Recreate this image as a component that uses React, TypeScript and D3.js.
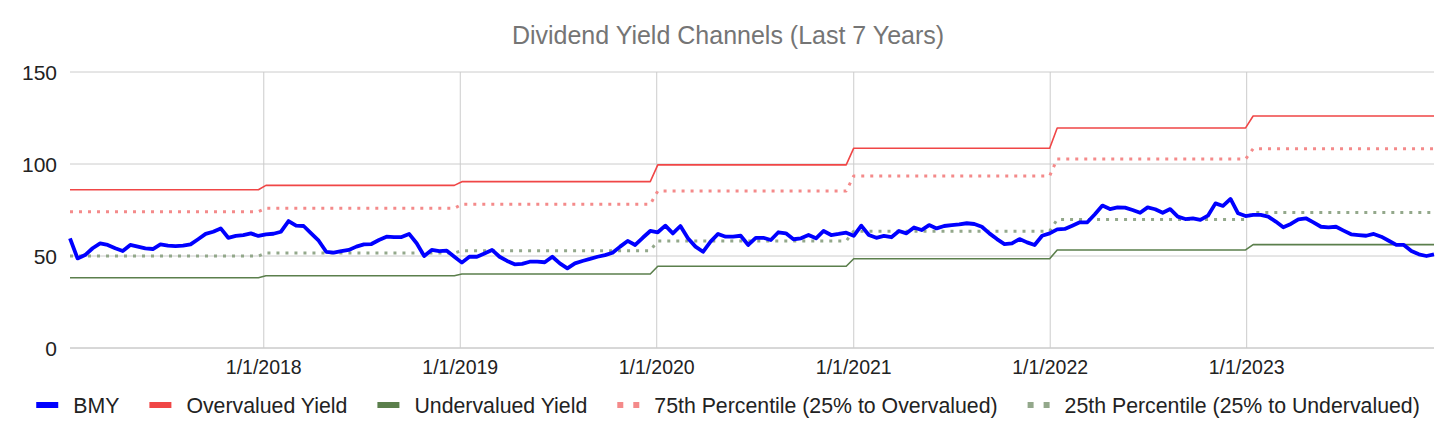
import { useRef, useEffect } from 'react'
import * as d3 from 'd3'

const W = 1456
const H = 439

// biweekly observations, first one on 2017-01-06
const startDate = new Date(2017, 0, 6)
const stepDays = 14

const bmy = [
  59.6, 48.7, 50.5, 54.2, 56.9, 56.0, 54.2, 52.7, 56.0, 55.1, 54.2, 53.8, 56.3, 55.6, 55.4, 55.6,
  56.3, 59.1, 62.0, 63.2, 65.0, 59.9, 60.9, 61.4, 62.3, 60.9, 61.8, 62.1, 63.2, 69.0, 66.5,
  66.3, 62.3, 58.3, 52.3, 51.8, 52.7, 53.3, 55.1, 56.3, 56.5, 58.7, 60.5, 60.3, 60.3, 62.0,
  56.9, 50.0, 53.3, 52.7, 52.9, 49.6, 46.4, 49.6, 49.6, 51.4, 53.3, 49.6, 47.3, 45.5,
  45.7, 46.9, 46.9, 46.6, 49.6, 46.0, 43.3, 46.0, 47.3, 48.4, 49.6, 50.5, 51.8, 55.1, 58.2,
  56.0, 59.9, 63.6, 62.9, 66.5, 62.3, 66.3, 59.6, 55.1, 52.3, 57.8, 62.0, 60.5, 60.5,
  61.0, 56.0, 59.9, 59.9, 58.7, 62.9, 62.3, 59.1, 59.6, 61.4, 59.6, 63.6, 61.4, 62.0, 62.7,
  61.0, 66.5, 61.4, 59.9, 60.9, 60.2, 63.6, 62.3, 65.5, 64.1, 66.8, 65.0, 66.3, 66.8,
  67.2, 67.8, 67.4, 65.9, 62.3, 59.2, 56.5, 56.9, 59.2, 57.4, 56.0, 61.0, 62.3, 64.5, 64.7,
  66.5, 68.3, 68.3, 72.7, 77.4, 75.5, 76.4, 76.3, 75.0, 73.5, 76.4, 75.4, 73.5, 75.5, 71.4,
  70.1, 70.5, 69.6, 71.9, 78.6, 77.2, 81.0, 73.2, 71.7, 72.3, 72.3, 71.4, 68.7, 65.6, 67.4,
  69.9, 70.5, 68.3, 65.9, 65.6, 65.9, 63.8, 61.8, 61.4, 61.0, 62.0, 60.5, 58.3, 56.0, 56.0,
  52.7, 50.9, 50.0, 50.9,
]

// yearly channel levels
const years = [2017, 2018, 2019, 2020, 2021, 2022, 2023]
const overvalued = [86.0, 88.4, 90.4, 99.5, 108.6, 119.6, 126.1]
const undervalued = [38.2, 39.3, 40.2, 44.4, 48.5, 53.3, 56.2]
const pct75 = [74.1, 75.9, 78.1, 85.3, 93.5, 102.7, 108.3]
const pct25 = [50.0, 51.6, 52.9, 58.2, 63.5, 69.9, 73.7]

const yTicks = [0, 50, 100, 150]
const xTickYears = [2018, 2019, 2020, 2021, 2022, 2023]

const series = [
  { name: 'BMY', color: '#0000ff', width: 3.8, dash: '' },
  { name: 'Overvalued Yield', color: '#f04646', width: 1.6, dash: '' },
  { name: 'Undervalued Yield', color: '#5b7f4c', width: 1.6, dash: '' },
  { name: '75th Percentile (25% to Overvalued)', color: '#f48a8a', width: 3, dash: '3,6' },
  { name: '25th Percentile (25% to Undervalued)', color: '#93a88b', width: 3, dash: '3,6' },
]

const FONT = '"Liberation Sans", Arial, sans-serif'

export default function App() {
  const svgRef = useRef<SVGSVGElement | null>(null)

  useEffect(() => {
    if (!svgRef.current) return
    const svg = d3.select(svgRef.current)
    svg.selectAll('*').remove()

    const dates = bmy.map((_, i) => d3.timeDay.offset(startDate, i * stepDays))
    const levelAt = (arr: number[], d: Date) => arr[years.indexOf(d.getFullYear())]

    const left = 70, right = 1434, top = 72, bottom = 348
    const x = d3.scaleTime().domain([dates[0], dates[dates.length - 1]]).range([left, right])
    const y = d3.scaleLinear().domain([0, 150]).range([bottom, top])

    svg.append('rect').attr('width', W).attr('height', H).attr('fill', '#fff')

    // title
    svg.append('text').attr('x', W / 2).attr('y', 44).attr('text-anchor', 'middle')
      .attr('font-family', FONT).attr('font-size', '25px').attr('fill', '#757575')
      .text('Dividend Yield Channels (Last 7 Years)')

    // grid
    const grid = svg.append('g')
    yTicks.forEach(t => {
      grid.append('line').attr('x1', left).attr('x2', right).attr('y1', y(t)).attr('y2', y(t))
        .attr('stroke', t === 0 ? '#b0b0b0' : '#cccccc').attr('stroke-width', 1)
      svg.append('text').attr('x', 57).attr('y', y(t) + 7.5).attr('text-anchor', 'end')
        .attr('font-family', FONT).attr('font-size', '21px').attr('fill', '#222')
        .text(String(t))
    })
    const fmt = d3.timeFormat('%-m/%-d/%Y')
    xTickYears.forEach(yr => {
      const d = new Date(yr, 0, 1)
      grid.append('line').attr('x1', x(d)).attr('x2', x(d)).attr('y1', top).attr('y2', bottom)
        .attr('stroke', '#cccccc').attr('stroke-width', 1)
      svg.append('text').attr('x', x(d)).attr('y', 374).attr('text-anchor', 'middle')
        .attr('font-family', FONT).attr('font-size', '19.5px').attr('fill', '#222')
        .text(fmt(d))
    })

    const values = [
      bmy,
      dates.map(d => levelAt(overvalued, d)),
      dates.map(d => levelAt(undervalued, d)),
      dates.map(d => levelAt(pct75, d)),
      dates.map(d => levelAt(pct25, d)),
    ]
    const line = d3.line<number>().x((_, i) => x(dates[i])).y(v => y(v))

    // channel series first, BMY on top
    const order = [1, 2, 3, 4, 0]
    order.forEach(si => {
      const s = series[si]
      svg.append('path').datum(values[si]).attr('d', line)
        .attr('fill', 'none').attr('stroke', s.color).attr('stroke-width', s.width)
        .attr('stroke-dasharray', s.dash || null)
        .attr('stroke-linejoin', 'round')
    })

    // legend
    const legend = svg.append('g')
    const markW = 22, markGap = 15, itemGap = 30
    const items: { g: d3.Selection<SVGGElement, unknown, null, undefined>, w: number }[] = []
    series.forEach(s => {
      const g = legend.append('g')
      if (s.dash) {
        g.append('line').attr('x1', 0).attr('x2', markW).attr('y1', 0).attr('y2', 0)
          .attr('stroke', s.color).attr('stroke-width', 6).attr('stroke-dasharray', '6,10')
      } else {
        g.append('rect').attr('x', 0).attr('y', -3).attr('width', markW).attr('height', 6)
          .attr('fill', s.color)
      }
      const t = g.append('text').attr('x', markW + markGap).attr('y', 7.5)
        .attr('font-family', FONT).attr('font-size', '21.3px').attr('fill', '#222').text(s.name)
      const tw = (t.node() as SVGTextElement).getComputedTextLength()
      items.push({ g, w: markW + markGap + tw })
    })
    const total = d3.sum(items, d => d.w) + itemGap * (items.length - 1)
    let cx = W / 2 - total / 2
    items.forEach(it => {
      it.g.attr('transform', `translate(${cx},405)`)
      cx += it.w + itemGap
    })
  }, [])

  return (
    <div style={{ position: 'absolute', left: 0, top: 0 }}>
      <svg ref={svgRef} width={W} height={H} viewBox={`0 0 ${W} ${H}`} style={{ display: 'block' }} />
    </div>
  )
}
